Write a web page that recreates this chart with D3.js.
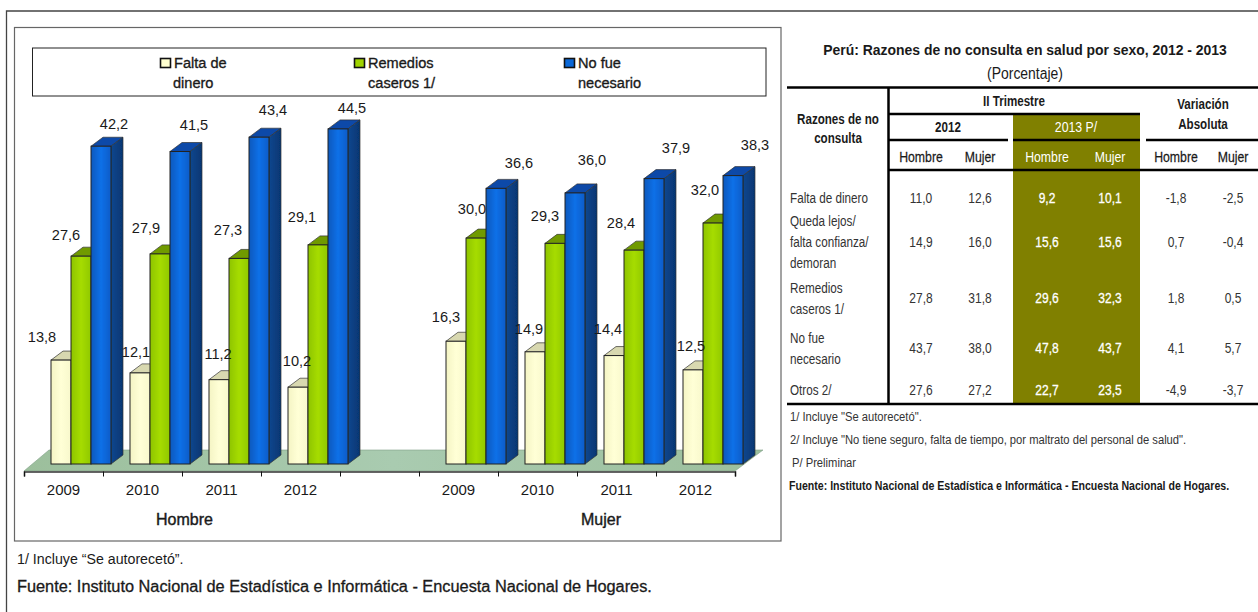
<!DOCTYPE html>
<html><head><meta charset="utf-8">
<script src="https://cdn.jsdelivr.net/npm/d3@7"></script>
<style>html,body{margin:0;padding:0;background:#fff;overflow:hidden}svg{display:block}</style>
</head><body><div id="c"></div>
<script>
// ---- chart data ----
const years = ["2009","2010","2011","2012"];
const sexes = ["Hombre","Mujer"];
const seriesNames = [["Falta de","dinero"],["Remedios","caseros 1/"],["No fue","necesario"]];
const faltaDinero = [13.8,12.1,11.2,10.2,16.3,14.9,14.4,12.5];
const remedios    = [27.6,27.9,27.3,29.1,30.0,29.3,28.4,32.0];
const noFue       = [42.2,41.5,43.4,44.5,36.6,36.0,37.9,38.3];
// ---- table data ----
const tableRows = [["Falta de dinero"],["Queda lejos/","falta confianza/","demoran"],["Remedios","caseros 1/"],["No fue","necesario"],["Otros 2/"]];
const hombre2012 = ["11,0","14,9","27,8","43,7","27,6"];
const mujer2012  = ["12,6","16,0","31,8","38,0","27,2"];
const hombre2013 = ["9,2","15,6","29,6","47,8","22,7"];
const mujer2013  = ["10,1","15,6","32,3","43,7","23,5"];
const varHombre  = ["-1,8","0,7","1,8","4,1","-4,9"];
const varMujer   = ["-2,5","-0,4","0,5","5,7","-3,7"];
// hand placement of the data labels, relative to their bar (the source places them by hand)
const nudgeCream = [[-19,-24],[-4,-21],[-1,-26],[-1,-27],[-10,-25],[-6,-23],[-6,-27],[-2,-24]];
const nudgeGreen = [[-15,-22],[-14,-26],[-11,-29],[-16,-28],[-4,-30],[-10,-28],[-13,-28],[-8,-33]];
const nudgeBlue  = [[13,-23],[14,-27],[14,-28],[14,-21],[23,-26],[17,-33],[22,-31],[22,-31]];

const W=1258,H=612;
const svg=d3.select("#c").append("svg").attr("width",W).attr("height",H);
const ARIAL='"Liberation Sans",Arial,sans-serif';
const defs=svg.append("defs");
function grad(id,stops){
  const g=defs.append("linearGradient").attr("id",id);
  stops.forEach((c,i)=>g.append("stop").attr("offset",i/(stops.length-1)).attr("stop-color",c));
}
grad("gc",["#f4f4c4","#ffffd6","#f8f8cc"]);
grad("gg",["#8ec400","#a6dc00","#90c800"]);
grad("gb",["#0a58bc","#0a70e8","#0a5cc8"]);
grad("gs",["#0a478f","#063672"]);
grad("gf",["#9cbf9c","#a9cbb0","#9cbf9c"]);
const blur=defs.append("filter").attr("id","soft").attr("x","-20%").attr("y","-20%").attr("width","140%").attr("height","140%");
blur.append("feGaussianBlur").attr("stdDeviation",0.5);

// text helper; o.sx squeezes the text horizontally (narrow look of the source)
function T(g,x,y,s,o={}){
  const sx=o.sx||1;
  return g.append("text").attr("transform",`translate(${x},${y}) scale(${sx},1)`).attr("dy",".35em").text(s)
   .attr("text-anchor",o.a||"middle").attr("font-family",ARIAL).attr("font-size",o.s||13)
   .attr("font-weight",o.w||400).attr("fill",o.c||"#1a1a1a")
   .attr("stroke",o.st?(o.c||"#1a1a1a"):null).attr("stroke-width",o.st||null);
}
function rect(g,x,y,w,h,stroke,sw,fill){return g.append("rect").attr("x",x).attr("y",y).attr("width",w).attr("height",h).attr("fill",fill||"none").attr("stroke",stroke||"none").attr("stroke-width",sw||0);}
function line(g,x1,y1,x2,y2,c,w){return g.append("line").attr("x1",x1).attr("y1",y1).attr("x2",x2).attr("y2",y2).attr("stroke",c||"#000").attr("stroke-width",w||1);}

// frames
svg.append("path").attr("d",`M6.5,${H}V11H${W}`).attr("fill","none").attr("stroke","#444").attr("stroke-width",1.3);
rect(svg,14.5,27.5,766.5,513.5,"#666",1.2);
rect(svg,32.5,48,733.5,48,"#222",1);

// legend
const legendColors=["#ffffd0","#a0d400","#0a68d8"], legendX=[160,354,564];
seriesNames.forEach((n,i)=>{
  rect(svg,legendX[i]+.5,58.5,10,9,"#111",1.6,legendColors[i]);
  T(svg,legendX[i]+14,62.5,n[0],{a:"start",s:15.5,sx:.94,st:.35});
  T(svg,legendX[i]+14-(i==0?1:0),82.5,n[1],{a:"start",s:15.5,sx:.94,st:.35});
});

// scales
const slots=[0,1,2,3,4,5,6,7,8];
const x=d3.scaleBand().domain(slots).range([24,735]).padding(0);
const barW=20, depthX=12, depthY=9, floorDrop=7, barOffset=27;
const y=d3.scaleLinear().domain([0,50]).range([464,464-376.5]);
const slotOfBar=i=>i<4?i:i+1;
const barX=(i,s)=>x(slotOfBar(i))+barOffset+s*barW;

// floor
const fy=y(0)+floorDrop, by=y(0)-14;
svg.append("polygon").attr("points",[[x.range()[0],fy],[x.range()[1],fy],[x.range()[1]+28,by],[x.range()[0]+25,by]].join(" "))
  .attr("fill","url(#gf)").attr("stroke","#7f9f88").attr("stroke-width",.6);

// axis: ticks at slot edges, labels centred
const edges=d3.scalePoint().domain(d3.range(10)).range(x.range());
svg.append("g").attr("transform",`translate(0,${fy+.5})`)
  .call(d3.axisBottom(edges).tickSize(5).tickFormat(""))
  .call(g=>{g.select(".domain").attr("stroke","#333").attr("stroke-width",1.6);g.selectAll(".tick line").attr("stroke","#111");});
const yearOfSlot=s=>s===4?"":years[s<4?s:s-5];
svg.append("g").attr("transform",`translate(0,${fy+10})`)
  .call(d3.axisBottom(x).tickSize(0).tickFormat(yearOfSlot))
  .call(g=>{g.select(".domain").remove();g.selectAll("text").attr("font-family",ARIAL).attr("font-size",15).attr("fill","#1a1a1a");});
T(svg,184.5,519,sexes[0],{s:16,st:.4});
T(svg,601,519,sexes[1],{s:16,st:.4});

// bars (drawn series by series so nearer faces overlap correctly)
const series=[
 {v:faltaDinero,f:"url(#gc)",top:"#d8d8b0",side:"#c0c09c",n:nudgeCream},
 {v:remedios,f:"url(#gg)",top:"#6f9a00",side:"#6f9a00",n:nudgeGreen},
 {v:noFue,f:"url(#gb)",top:"#0a48a8",side:"url(#gs)",n:nudgeBlue}];
const barsG=svg.append("g").attr("filter","url(#soft)");
series.forEach((S,s)=>{
  const g=barsG.append("g").selectAll("g").data(S.v).join("g");
  g.append("polygon").attr("points",(d,i)=>{const X=barX(i,s),Y=y(d);return [[X,Y],[X+barW,Y],[X+barW+depthX,Y-depthY],[X+depthX,Y-depthY]].join(" ");})
    .attr("fill",S.top).attr("stroke","#333").attr("stroke-width",.7);
  g.append("polygon").attr("points",(d,i)=>{const X=barX(i,s)+barW,Y=y(d);return [[X,Y],[X+depthX,Y-depthY],[X+depthX,y(0)-depthY],[X,y(0)]].join(" ");})
    .attr("fill",S.side).attr("stroke","#333").attr("stroke-width",.7);
  g.append("rect").attr("x",(d,i)=>barX(i,s)).attr("y",d=>y(d)).attr("width",barW).attr("height",d=>y(0)-y(d))
    .attr("fill",S.f).attr("stroke","#222").attr("stroke-width",1);
});
// data labels
series.forEach((S,s)=>{
  S.v.forEach((d,i)=>{
    T(svg,barX(i,s)+barW/2+S.n[i][0],y(d)+S.n[i][1],d3.format(".1f")(d).replace(".",","),{s:15.5,sx:.94});
  });
});

// notes under chart
T(svg,17,559,"1/  Incluye “Se autorecetó”.",{a:"start",s:14.5,sx:.98});
T(svg,17,586,"Fuente: Instituto Nacional de Estadística e Informática - Encuesta Nacional de Hogares.",{a:"start",s:16,sx:1.02,st:.3});

// ---- table ----
const t=svg.append("g");
const colX=[921,980,1047,1110,1176,1233];
rect(t,1013,114,127,290,null,0,"#808000");
T(t,1025,49.5,"Perú: Razones de no consulta en salud por sexo, 2012 - 2013",{s:15.5,w:700,sx:.9});
T(t,1025,73,"(Porcentaje)",{s:16,sx:.87});
line(t,787,87.5,W,87.5,"#000",2.5);
line(t,888.5,87,888.5,404,"#000",2.5);
line(t,888,114,1140,114,"#000",2.5);
line(t,888,140,1008,140,"#000",2.5);
line(t,1013,140,1140,140,"#000",2.5);
line(t,1146,140,W,140,"#000",2.5);
line(t,888,170,W,170,"#000",2.5);
line(t,787,404,W,404,"#000",2.5);
const hs={s:14.5,w:700,sx:.8};
T(t,838,119,"Razones de no",hs); T(t,838,138,"consulta",hs);
T(t,1014,100.5,"II Trimestre",hs);
T(t,1203,104,"Variación",hs); T(t,1203,124,"Absoluta",hs);
T(t,948,127,"2012",hs); T(t,1076,127,"2013 P/",{s:14.5,sx:.85,c:"#fff"});
const subs=["Hombre","Mujer","Hombre","Mujer","Hombre","Mujer"];
subs.forEach((s,i)=>T(t,colX[i],157,s,(i==2||i==3)?{s:15,sx:.82,c:"#fff"}:{s:15,sx:.82,st:.25}));
const rowY=[198,242,298,348,390];
const lineStep=[0,21,20.5,21,0];
tableRows.forEach((r,i)=>{
  r.forEach((l,j)=>T(t,790,rowY[i]+(j-(r.length-1)/2)*lineStep[i],l,{a:"start",s:15,sx:.78,c:"#333"}));
});
[hombre2012,mujer2012,hombre2013,mujer2013,varHombre,varMujer].forEach((col,c)=>{
  col.forEach((v,i)=>T(t,colX[c],rowY[i],v,(c==2||c==3)?{s:15,sx:.8,c:"#fff",st:.3}:{s:15,sx:.8,c:"#333"}));
});
const notes=[["1/ Incluye \"Se autorecetó\".",416,790],["2/ Incluye \"No tiene seguro, falta de tiempo, por maltrato del personal de salud\".",439,790],["P/ Preliminar",462,792]];
notes.forEach(n=>T(t,n[2],n[1],n[0],{a:"start",s:13.5,sx:.83,c:"#333"}));
T(t,789,485.5,"Fuente: Instituto Nacional de Estadística e Informática - Encuesta Nacional de Hogares.",{a:"start",s:13.5,sx:.785,w:700});
</script></body></html>
